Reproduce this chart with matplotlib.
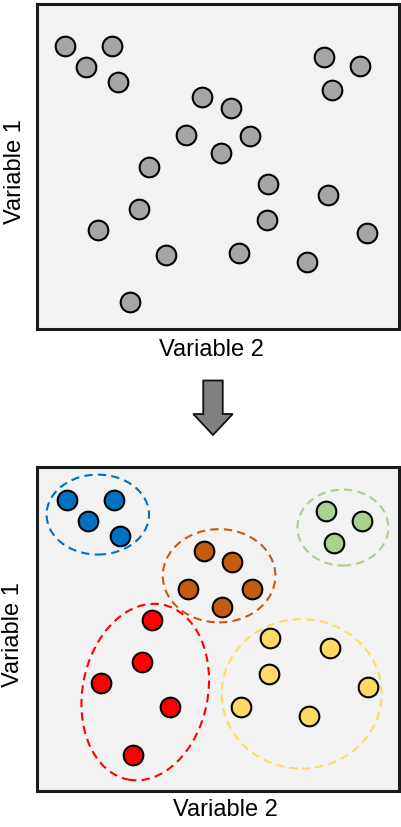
import matplotlib
matplotlib.use("Agg")
import matplotlib.pyplot as plt
from matplotlib.patches import Ellipse, FancyArrow

plt.rcParams['font.family'] = ['Liberation Sans', 'DejaVu Sans']

# unclustered points (Variable 2, Variable 1)
raw_x = [0.78, 2.08, 1.36, 2.25, 4.57, 5.35, 4.12, 5.89, 5.07, 3.10, 6.39, 8.05,
         2.83, 1.69, 6.35, 9.11, 3.57, 5.57, 7.46, 2.56, 7.94, 8.93, 8.16]
raw_y = [7.83, 7.83, 7.25, 6.85, 6.42, 6.11, 5.37, 5.35, 4.87, 4.50, 4.01, 3.72,
         3.32, 2.75, 3.02, 2.65, 2.06, 2.10, 1.85, 0.74, 7.53, 7.27, 6.63]

# clustered points
clusters = ["blue", "green", "brown", "red", "yellow"]
cl_colors = ["#0070C0", "#A9D18E", "#C55A11", "#FF0000", "#FFD966"]
cl_x = [[0.84, 2.14, 1.42, 2.29],
        [7.99, 8.99, 8.20],
        [4.61, 5.40, 4.18, 5.95, 5.12],
        [3.19, 2.91, 1.77, 3.67, 2.64],
        [6.44, 8.10, 6.40, 9.15, 5.63, 7.52]]
cl_y = [[8.08, 8.08, 7.50, 7.08],
        [7.78, 7.50, 6.87],
        [6.65, 6.34, 5.60, 5.60, 5.09],
        [4.75, 3.57, 2.99, 2.32, 0.99],
        [4.23, 3.96, 3.25, 2.89, 2.33, 2.08]]
# cluster outlines: centre x, centre y, width, height, tilt
ell_cx = [1.68, 8.45, 5.03, 2.99, 7.31]
ell_cy = [7.67, 7.31, 5.97, 2.74, 2.69]
ell_w = [2.83, 2.51, 3.11, 3.46, 4.42]
ell_h = [2.22, 2.11, 2.59, 4.95, 4.15]
ell_ang = [0, 0, 0, -11, 0]

fig = plt.figure(figsize=(4.02, 8.28), dpi=100)

# arrow between panels (pixel space)
axa = fig.add_axes([0, 0, 1, 1])
axa.set_xlim(0, 402)
axa.set_ylim(828, 0)
axa.axis('off')
axa.add_patch(FancyArrow(213, 381.5, 0, 54.5, width=19.5, head_width=39.5, head_length=21,
                         length_includes_head=True, fc="#808080", ec="#111111", lw=1.3))

ax1 = fig.add_axes([37/402, 1-330/828, 362/402, 325/828])
ax2 = fig.add_axes([37/402, 1-791.7/828, 362/402, 324/828])

for ax in (ax1, ax2):
    ax.set_xlim(0, 10)
    ax.set_ylim(0, 9)
    ax.set_facecolor("#F2F2F2")
    ax.set_xticks([])
    ax.set_yticks([])
    for sp in ax.spines.values():
        sp.set_linewidth(2.2)
        sp.set_color("#1A1A1A")

ax1.scatter(raw_x, raw_y, s=200, c="#A6A6A6", edgecolors="black", linewidths=1.5, zorder=3)

for i in range(len(clusters)):
    ax2.add_patch(Ellipse((ell_cx[i], ell_cy[i]), ell_w[i], ell_h[i], angle=ell_ang[i],
                          fill=False, ec=cl_colors[i], lw=1.5, ls=(0, (4, 2.5)), zorder=2))
    ax2.scatter(cl_x[i], cl_y[i], s=200, c=cl_colors[i], edgecolors="black",
                linewidths=1.5, zorder=3)

ax1.text(0.481, -0.0615, "Variable 2", transform=ax1.transAxes, ha="center", va="center", fontsize=17)
ax1.text(-0.0608, 0.486, "Variable 1", transform=ax1.transAxes, ha="center", va="center",
         fontsize=17, rotation=90)
ax2.text(0.5215, -0.0565, "Variable 2", transform=ax2.transAxes, ha="center", va="center", fontsize=17)
ax2.text(-0.0663, 0.4836, "Variable 1", transform=ax2.transAxes, ha="center", va="center",
         fontsize=17, rotation=90)

fig.savefig("out.png", dpi=100)
